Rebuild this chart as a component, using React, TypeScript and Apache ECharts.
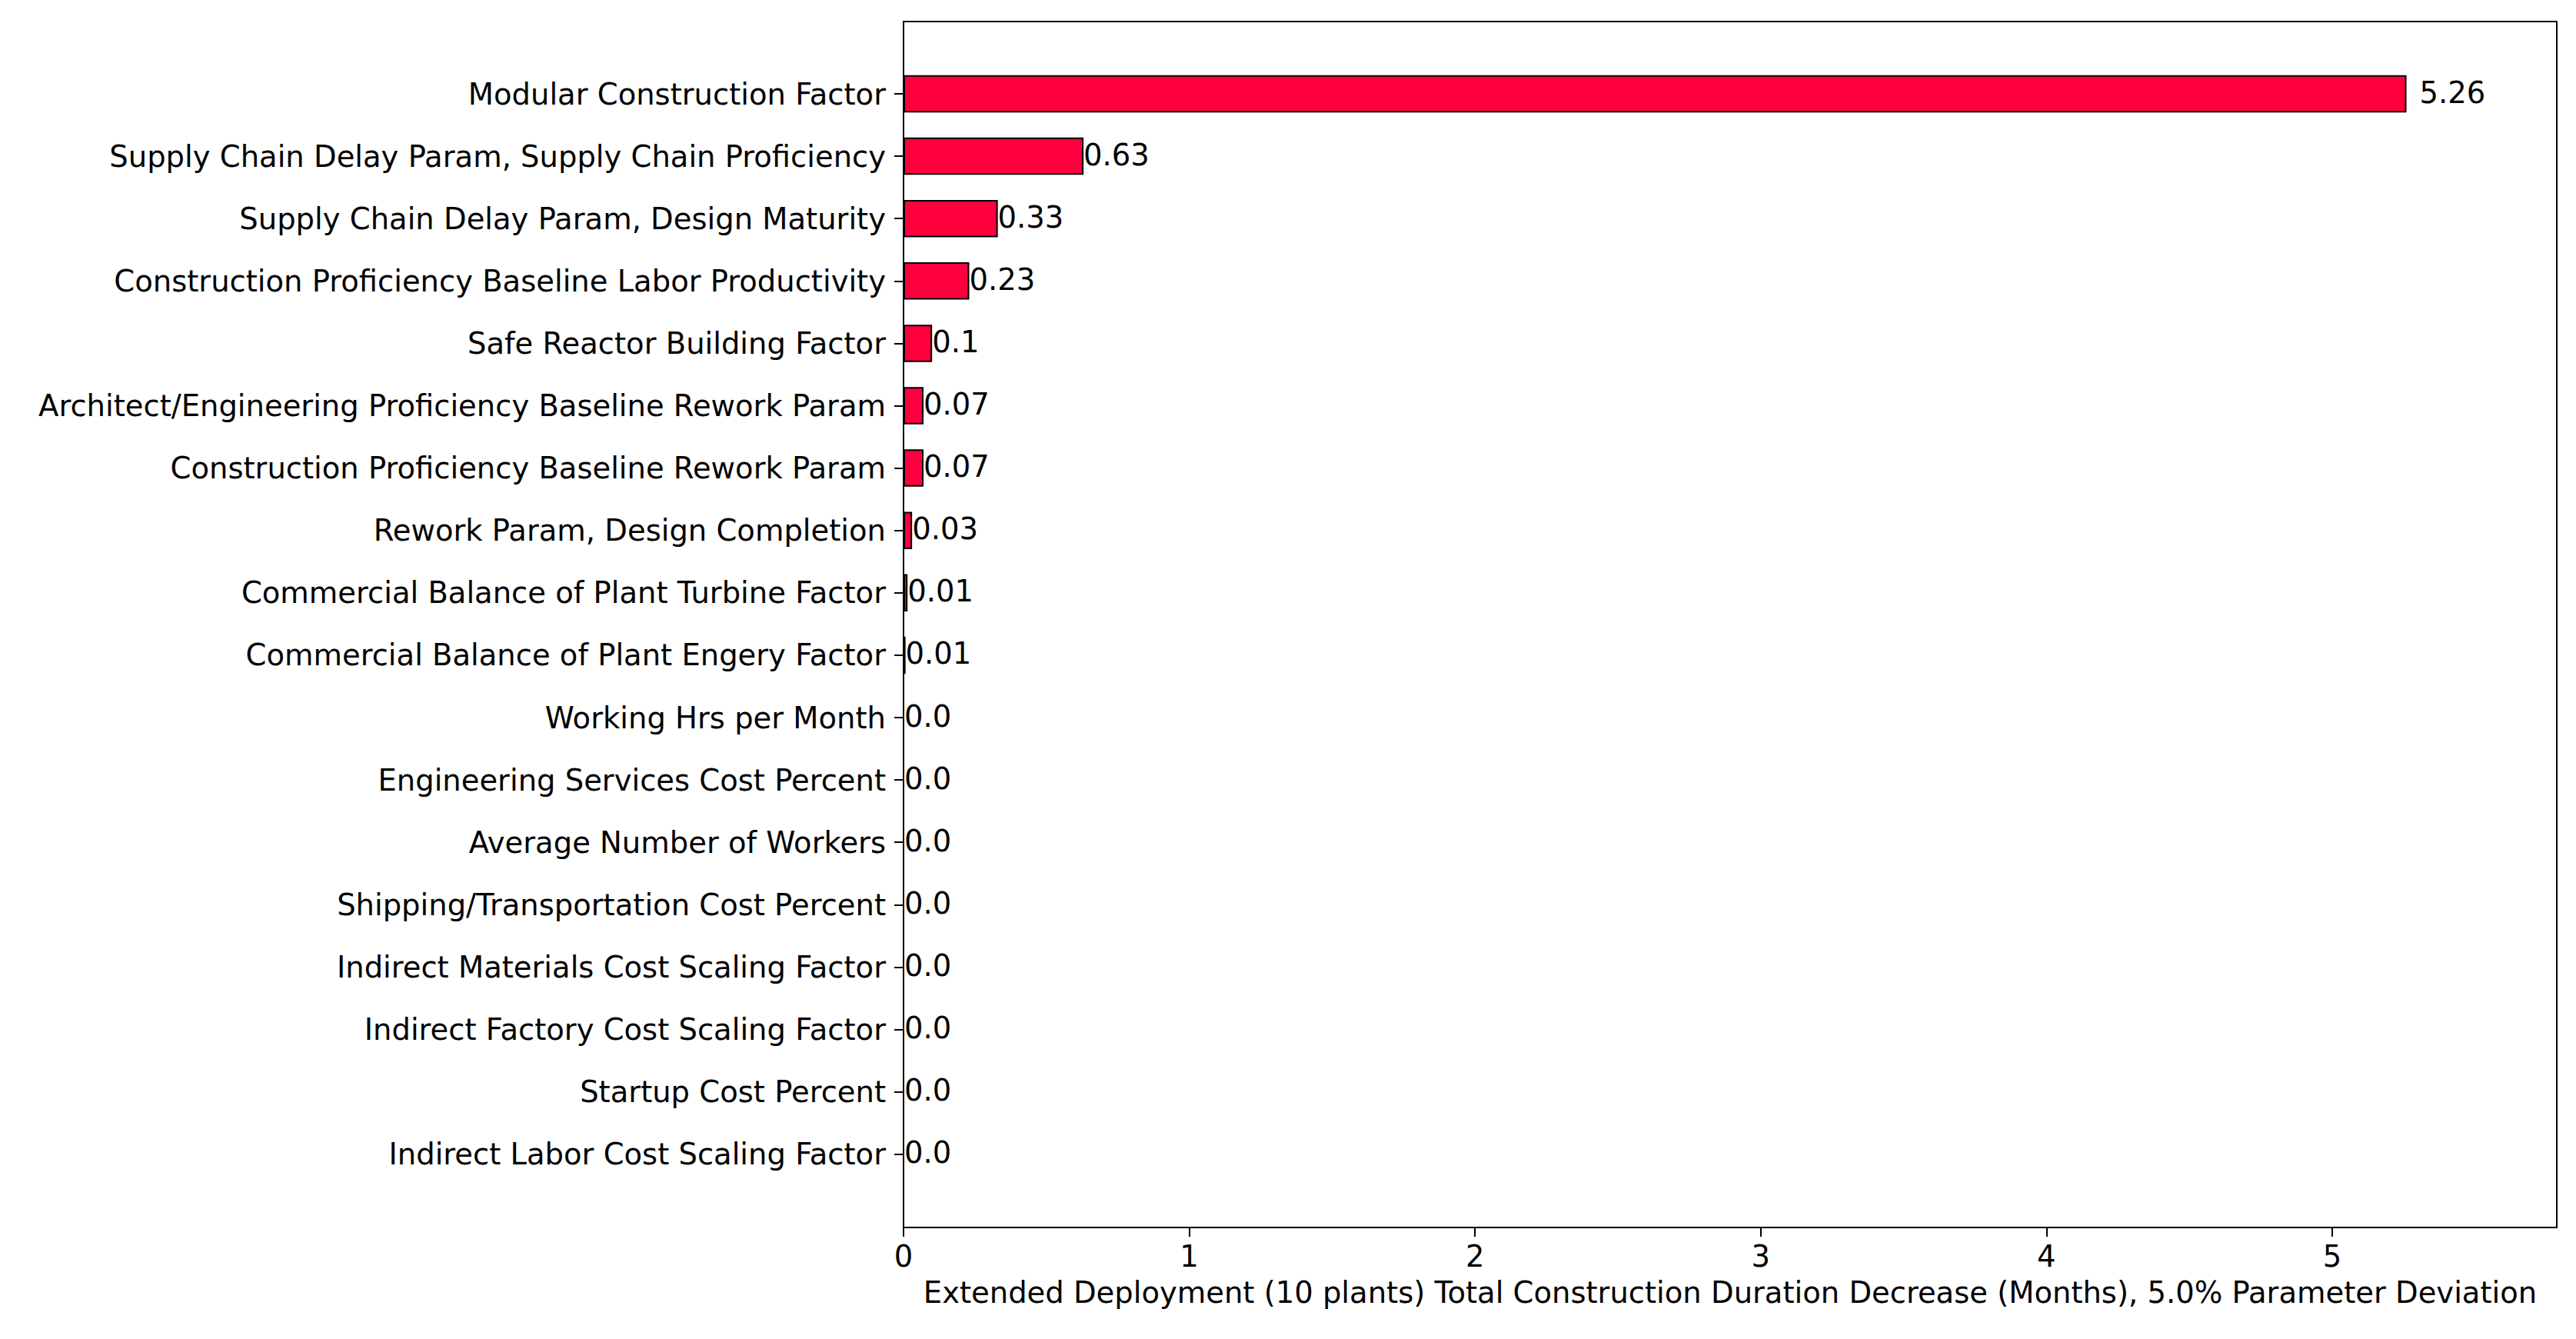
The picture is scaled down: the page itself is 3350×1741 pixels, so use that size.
import React, { useEffect, useRef } from "react";
import * as echarts from "echarts";

const categories: string[] = [
  "Modular Construction Factor",
  "Supply Chain Delay Param, Supply Chain Proficiency",
  "Supply Chain Delay Param, Design Maturity",
  "Construction Proficiency Baseline Labor Productivity",
  "Safe Reactor Building Factor",
  "Architect/Engineering Proficiency Baseline Rework Param",
  "Construction Proficiency Baseline Rework Param",
  "Rework Param, Design Completion",
  "Commercial Balance of Plant Turbine Factor",
  "Commercial Balance of Plant Engery Factor",
  "Working Hrs per Month",
  "Engineering Services Cost Percent",
  "Average Number of Workers",
  "Shipping/Transportation Cost Percent",
  "Indirect Materials Cost Scaling Factor",
  "Indirect Factory Cost Scaling Factor",
  "Startup Cost Percent",
  "Indirect Labor Cost Scaling Factor",
];

const values: number[] = [
  5.26, 0.63, 0.33, 0.23, 0.1, 0.07, 0.07, 0.03, 0.014, 0.007, 0, 0, 0, 0, 0, 0, 0, 0,
];

const xTicks: number[] = [0, 1, 2, 3, 4, 5];
const xMax = 5.786;
const xTitle =
  "Extended Deployment (10 plants) Total Construction Duration Decrease (Months), 5.0% Parameter Deviation";

const FONT = "DejaVu Sans";
const FS = 38.5;

function fmt(v: number): string {
  const r = Math.round(v * 100) / 100;
  return Number.isInteger(r) ? r.toFixed(1) : String(r);
}

export default function App() {
  const ref = useRef<HTMLDivElement>(null);
  useEffect(() => {
    document.body.style.margin = "0";
    if (!ref.current) return;
    const chart = echarts.init(ref.current, null, { renderer: "svg" });
    const W = 3350;
    const H = 1741;
    const left = 1175;
    const right = W - 3325;
    const frameTop = 28;
    const frameBottom = H - 1596;
    const band = 81.1;
    const firstCenter = 122;
    const barTop = firstCenter - band / 2;
    const barHeight = band * categories.length;
    const barBottom = H - barTop - barHeight;

    const option: any = {
      animation: false,
      backgroundColor: "#ffffff",
      textStyle: { fontFamily: FONT, color: "#000" },
      grid: [
        {
          left,
          right,
          top: frameTop,
          bottom: frameBottom,
          show: true,
          borderColor: "#000",
          borderWidth: 2,
          backgroundColor: "transparent",
        },
        {
          left,
          right,
          top: barTop,
          bottom: barBottom,
        },
      ],
      xAxis: [
        {
          type: "value",
          gridIndex: 0,
          min: 0,
          max: xMax,
          interval: 1,
          splitLine: { show: false },
          axisLine: { show: true, lineStyle: { color: "#000", width: 2 } },
          axisTick: {
            show: true,
            length: 12,
            customValues: xTicks,
            lineStyle: { color: "#000", width: 2 },
          },
          axisLabel: {
            show: true,
            customValues: xTicks,
            fontFamily: FONT,
            fontSize: FS,
            lineHeight: FS,
            color: "#000",
            margin: 18.5,
            formatter: (v: number) => String(v),
          },
          name: xTitle,
          nameLocation: "middle",
          nameGap: 65.5,
          nameTextStyle: { fontFamily: FONT, fontSize: FS, lineHeight: FS, color: "#000" },
        },
        {
          type: "value",
          gridIndex: 1,
          min: 0,
          max: xMax,
          show: false,
          splitLine: { show: false },
        },
      ],
      yAxis: [
        {
          type: "value",
          gridIndex: 0,
          min: 0,
          max: 1,
          show: false,
          splitLine: { show: false },
        },
        {
          type: "category",
          gridIndex: 1,
          inverse: true,
          data: categories,
          axisLine: { show: false },
          axisTick: {
            show: true,
            alignWithLabel: true,
            length: 12,
            lineStyle: { color: "#000", width: 2 },
          },
          axisLabel: {
            fontFamily: FONT,
            fontSize: FS,
            color: "#000",
            margin: 23,
          },
          splitLine: { show: false },
        },
      ],
      series: [
        {
          type: "bar",
          xAxisIndex: 1,
          yAxisIndex: 1,
          barWidth: 48.5,
          data: values.map((v, i) =>
            i === 0 ? { value: v, label: { distance: 17 } } : v
          ),
          itemStyle: { color: "#ff003f", borderColor: "#000", borderWidth: 2 },
          label: {
            show: true,
            position: "right",
            distance: 0,
            offset: [0, -2],
            fontFamily: FONT,
            fontSize: FS,
            color: "#000",
            formatter: (p: any) => fmt(p.value),
          },
        },
      ],
    };
    chart.setOption(option);
    return () => chart.dispose();
  }, []);
  return <div ref={ref} style={{ width: 3350, height: 1741 }} />;
}
